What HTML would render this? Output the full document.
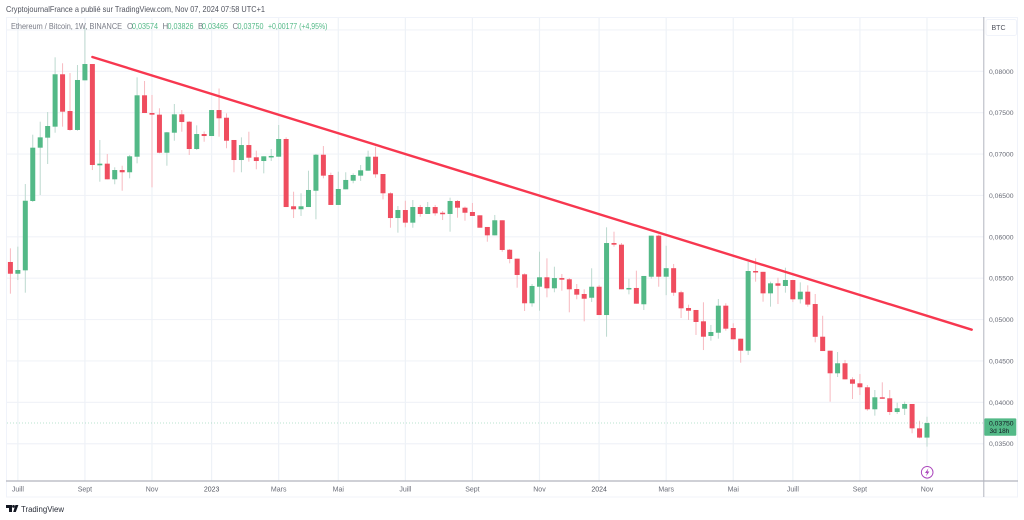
<!DOCTYPE html>
<html lang="fr">
<head>
<meta charset="utf-8">
<title>ETH/BTC 1W</title>
<style>
html,body{margin:0;padding:0;background:#fff;width:1024px;height:520px;overflow:hidden}
svg{display:block;font-family:"Liberation Sans",sans-serif}
</style>
</head>
<body>
<svg id="chart" xmlns="http://www.w3.org/2000/svg" width="1024" height="520" viewBox="0 0 1024 520">
  <rect x="0" y="0" width="1024" height="520" fill="#ffffff"/>
  <text x="6" y="12" font-size="8.2" fill="#50535e" textLength="259" lengthAdjust="spacingAndGlyphs">CryptojournalFrance a publié sur TradingView.com, Nov 07, 2024 07:58 UTC+1</text>
  <rect x="6.5" y="17.5" width="1011" height="479.5" fill="#ffffff" stroke="#f0f3fa" stroke-width="1"/>
  <g id="grid"></g>
  <g id="candles"></g>
  <line id="last-line" stroke="#53b987" stroke-opacity="0.4" stroke-width="1" stroke-dasharray="1 2"/>
  <line id="trend" stroke="#f7374f" stroke-width="2.4" stroke-linecap="round"/>
  <line x1="983.8" y1="17" x2="983.8" y2="497" stroke="#b2b5be" stroke-width="1"/>
  <line x1="6" y1="481" x2="1018" y2="481" stroke="#b2b5be" stroke-width="1.2"/>
  <g id="x-labels"></g>
  <g id="y-labels"></g>

  <g font-size="7.9">
    <text x="11" y="29" fill="#787b86" textLength="111" lengthAdjust="spacingAndGlyphs">Ethereum / Bitcoin, 1W, BINANCE</text>
    <text x="127" y="29" fill="#787b86">O</text>
    <text x="132" y="29" fill="#53b987" textLength="26" lengthAdjust="spacingAndGlyphs">0,03574</text>
    <text x="162.5" y="29" fill="#787b86">H</text>
    <text x="167.5" y="29" fill="#53b987" textLength="26" lengthAdjust="spacingAndGlyphs">0,03826</text>
    <text x="198" y="29" fill="#787b86">B</text>
    <text x="202" y="29" fill="#53b987" textLength="26" lengthAdjust="spacingAndGlyphs">0,03465</text>
    <text x="232.5" y="29" fill="#787b86">C</text>
    <text x="237.5" y="29" fill="#53b987" textLength="26" lengthAdjust="spacingAndGlyphs">0,03750</text>
    <text x="268" y="29" fill="#53b987" textLength="59.5" lengthAdjust="spacingAndGlyphs">+0,00177 (+4,95%)</text>
  </g>

  <rect x="986" y="19.5" width="30.5" height="16" rx="2" fill="#ffffff" stroke="#f0f3fa" stroke-width="1"/>
  <text x="991.5" y="30" font-size="7" fill="#50535e">BTC</text>

  <rect id="last-box" x="984.3" width="32" height="17.4" rx="1" fill="#53b987"/>
  <text id="last-text" x="989" font-size="6.8" fill="#131722"></text>
  <text x="989.5" y="433" font-size="6.5" fill="#131722">3d 18h</text>

  <g>
    <circle cx="927.2" cy="472.3" r="5.8" fill="#ffffff" stroke="#ab47bc" stroke-width="1"/>
    <path d="M928.4 468.2 L925 473 L927 473 L926 476.4 L929.4 471.5 L927.4 471.5 Z" fill="#ab47bc"/>
  </g>

  <g>
    <path d="M6 505 H12 V512 H9 V508 H6 Z M13.2 512 L15.4 505 H18.4 L15.8 512 Z" fill="#131722"/>
    <circle cx="13.5" cy="506.4" r="1.4" fill="#131722"/>
    <text x="21" y="512" font-size="8.6" fill="#2a2e39" textLength="43" lengthAdjust="spacingAndGlyphs">TradingView</text>
  </g>
</svg>

<script>
// --- Chart data (weekly ETH/BTC) ---
const opens = [0.05696,0.05554,0.05595,0.06433,0.07077,0.07198,0.07331,0.07964,0.07520,0.07291,0.07891,0.08088,0.06864,0.06884,0.06695,0.06807,0.06780,0.06968,0.07710,0.07496,0.07476,0.07016,0.07258,0.07480,0.07391,0.07061,0.07242,0.07218,0.07532,0.07439,0.07170,0.06928,0.07109,0.06961,0.06916,0.06965,0.06968,0.07182,0.06369,0.06333,0.06360,0.06557,0.06992,0.06747,0.06385,0.06574,0.06678,0.06739,0.06799,0.06968,0.06759,0.06526,0.06227,0.06324,0.06171,0.06360,0.06276,0.06360,0.06291,0.06276,0.06433,0.06352,0.06300,0.06260,0.06119,0.06018,0.06200,0.05844,0.05736,0.05547,0.05197,0.05397,0.05511,0.05378,0.05502,0.05487,0.05369,0.05309,0.05264,0.05397,0.05055,0.05925,0.05905,0.05366,0.05382,0.05185,0.05518,0.06014,0.05518,0.05621,0.05330,0.05140,0.05116,0.04979,0.04802,0.04841,0.05168,0.04898,0.04769,0.04624,0.05587,0.05577,0.05317,0.05438,0.05406,0.05478,0.05245,0.05337,0.05188,0.04793,0.04624,0.04351,0.04472,0.04278,0.04230,0.04182,0.03916,0.04061,0.04049,0.03883,0.03923,0.03980,0.03686,0.03574];
const highs = [0.05861,0.05881,0.06638,0.07234,0.07391,0.07508,0.08169,0.08097,0.07979,0.08076,0.08523,0.08088,0.07170,0.07001,0.06840,0.06859,0.06989,0.07927,0.07883,0.07714,0.07553,0.07267,0.07605,0.07532,0.07399,0.07347,0.07273,0.07532,0.07792,0.07492,0.07170,0.07202,0.07270,0.07041,0.06973,0.07061,0.07351,0.07202,0.06545,0.06526,0.06799,0.07001,0.07097,0.06775,0.06787,0.06780,0.06767,0.06868,0.07041,0.07089,0.06759,0.06538,0.06372,0.06436,0.06445,0.06385,0.06421,0.06385,0.06312,0.06473,0.06445,0.06366,0.06409,0.06260,0.06119,0.06264,0.06200,0.05853,0.05736,0.05559,0.05430,0.05820,0.05740,0.05639,0.05551,0.05502,0.05430,0.05366,0.05620,0.05418,0.06115,0.06062,0.05925,0.05494,0.05591,0.05527,0.06014,0.06028,0.05892,0.05672,0.05349,0.05180,0.05116,0.05209,0.04935,0.05249,0.05197,0.04955,0.04769,0.05696,0.05740,0.05577,0.05458,0.05506,0.05627,0.05478,0.05450,0.05414,0.05309,0.05046,0.04624,0.04608,0.04512,0.04303,0.04342,0.04209,0.04149,0.04242,0.04149,0.03996,0.04008,0.03980,0.03778,0.03826];
const lows = [0.05313,0.05478,0.05325,0.06421,0.06505,0.06880,0.07258,0.07331,0.07282,0.07282,0.07891,0.06807,0.06666,0.06695,0.06635,0.06557,0.06707,0.06888,0.07496,0.06598,0.07009,0.06859,0.07161,0.07270,0.06989,0.07049,0.07149,0.07218,0.07210,0.07070,0.06780,0.06780,0.06908,0.06816,0.06767,0.06916,0.06968,0.06360,0.06227,0.06252,0.06360,0.06212,0.06707,0.06385,0.06385,0.06574,0.06647,0.06675,0.06799,0.06714,0.06453,0.06110,0.06050,0.06115,0.06110,0.06243,0.06276,0.06255,0.06203,0.06062,0.06231,0.06195,0.06252,0.06110,0.05941,0.06018,0.05820,0.05680,0.05385,0.05104,0.05156,0.05107,0.05269,0.05330,0.05349,0.05088,0.05245,0.04979,0.05212,0.05055,0.04793,0.05881,0.05366,0.05305,0.05192,0.05116,0.05494,0.05397,0.05295,0.05287,0.05019,0.04995,0.04814,0.04632,0.04745,0.04769,0.04866,0.04762,0.04479,0.04572,0.05458,0.05216,0.05156,0.05188,0.05325,0.05212,0.05194,0.05156,0.04725,0.04620,0.04008,0.04306,0.04278,0.04040,0.04089,0.03899,0.03839,0.04044,0.03847,0.03859,0.03847,0.03626,0.03566,0.03465];
const closes = [0.05554,0.05599,0.06436,0.07077,0.07202,0.07339,0.07964,0.07512,0.07291,0.07895,0.08088,0.06868,0.06884,0.06695,0.06807,0.06780,0.06973,0.07710,0.07496,0.07476,0.07016,0.07263,0.07480,0.07387,0.07061,0.07242,0.07218,0.07532,0.07432,0.07161,0.06928,0.07109,0.06956,0.06916,0.06973,0.06977,0.07182,0.06360,0.06333,0.06369,0.06566,0.06992,0.06739,0.06385,0.06578,0.06687,0.06747,0.06804,0.06968,0.06755,0.06526,0.06227,0.06324,0.06171,0.06360,0.06276,0.06360,0.06284,0.06276,0.06433,0.06352,0.06291,0.06252,0.06110,0.06018,0.06200,0.05841,0.05732,0.05539,0.05197,0.05406,0.05511,0.05378,0.05502,0.05482,0.05366,0.05301,0.05252,0.05397,0.05055,0.05925,0.05905,0.05366,0.05382,0.05192,0.05527,0.06014,0.05518,0.05621,0.05325,0.05136,0.05107,0.04971,0.04793,0.04850,0.05168,0.04890,0.04762,0.04624,0.05587,0.05577,0.05317,0.05438,0.05409,0.05478,0.05245,0.05337,0.05181,0.04792,0.04620,0.04351,0.04472,0.04278,0.04225,0.04182,0.03916,0.04061,0.04044,0.03883,0.03928,0.03980,0.03686,0.03574,0.03750];
const priceTicks = [0.035,0.04,0.045,0.05,0.055,0.06,0.065,0.07,0.075,0.08,0.085];
const priceTickLabels = ["0,03500","0,04000","0,04500","0,05000","0,05500","0,06000","0,06500","0,07000","0,07500","0,08000",""];
const timeTickIndex = [1,10,19,27,36,44,53,62,71,79,88,97,105,114,123];
const timeTickLabels = ["Juill","Sept","Nov","2023","Mars","Mai","Juill","Sept","Nov","2024","Mars","Mai","Juill","Sept","Nov"];
const trendIndex = [11,129];
const trendPrice = [0.08173,0.04878];
const lastPrice = 0.0375;

// --- Axis functions ---
const SVGNS = 'http://www.w3.org/2000/svg';
function xOf(i){ return 10.4 + i * 7.452; }
function yOf(p){ return 71.3 + (0.08 - p) / 0.005 * 41.38; }
function make(tag, parent, attrs){
  const el = document.createElementNS(SVGNS, tag);
  for (const k in attrs) el.setAttribute(k, attrs[k]);
  parent.appendChild(el);
  return el;
}

const grid = document.getElementById('grid');
const yLabels = document.getElementById('y-labels');
const xLabels = document.getElementById('x-labels');
const candles = document.getElementById('candles');

priceTicks.forEach(function(p, k){
  const y = yOf(p);
  const line = make('line', grid, {x1:7, x2:984, y1:y, y2:y, stroke:'#f1f3f8', 'stroke-width':1.2});
  
  
  if (priceTickLabels[k]) {
    const t = make('text', yLabels, {x:989, y:y + 2.5, 'font-size':6.8, fill:'#6a6d78'});
    
    
    t.textContent = priceTickLabels[k];
  }
});

timeTickIndex.forEach(function(idx, k){
  const x = xOf(idx);
  const line = make('line', grid, {x1:x, x2:x, y1:18, y2:481, stroke:'#eef2f7', 'stroke-width':1.2});
  
  
  const isYear = /^\d+$/.test(timeTickLabels[k]);
  const t = make('text', xLabels, {x:x, y:491.5, 'font-size':7, 'text-anchor':'middle', fill:isYear ? '#50535e' : '#6a6d78'});
  
  
  t.textContent = timeTickLabels[k];
});

opens.forEach(function(o, i){
  const c = closes[i];
  const up = c >= o;
  const x = xOf(i);
  const g = make('g', candles, {});
  
  
  const wick = make('line', g, {x1:x, x2:x, y1:yOf(highs[i]), y2:yOf(lows[i]), stroke:up ? '#bcd9cf' : '#f7b9c0', 'stroke-width':1});
  
  
  const top = yOf(Math.max(o, c));
  const h = Math.max(yOf(Math.min(o, c)) - top, 1.5);
  const body = make('rect', g, {x:x - 2.5, y:top, width:5, height:h, fill:up ? '#53b987' : '#ef4d5f'});
  
  
});

const trend = document.getElementById('trend');
trend.setAttribute('x1', xOf(trendIndex[0]));
trend.setAttribute('y1', yOf(trendPrice[0]));
trend.setAttribute('x2', xOf(trendIndex[1]));
trend.setAttribute('y2', yOf(trendPrice[1]));

const ly = yOf(lastPrice);
const lastLine = document.getElementById('last-line');
lastLine.setAttribute('x1', 7);
lastLine.setAttribute('x2', 984);
lastLine.setAttribute('y1', ly);
lastLine.setAttribute('y2', ly);
document.getElementById('last-box').setAttribute('y', ly - 4.7);
const lastText = document.getElementById('last-text');
lastText.setAttribute('y', ly + 2.5);
lastText.textContent = lastPrice.toFixed(5).replace('.', ',');
</script>
</body>
</html>
